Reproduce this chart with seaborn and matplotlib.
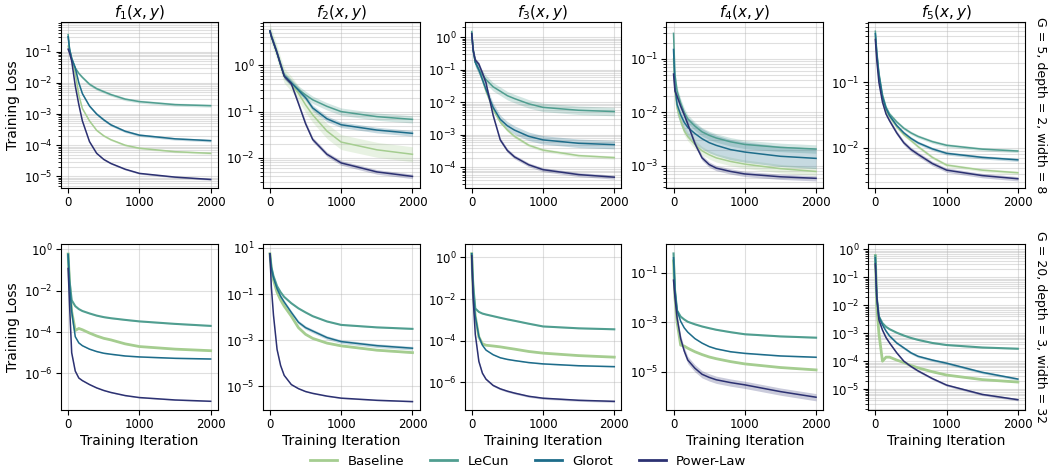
import matplotlib

matplotlib.use("Agg")
import matplotlib.pyplot as plt
import numpy as np
import pandas as pd
import seaborn as sns
from matplotlib.lines import Line2D
from matplotlib.ticker import NullLocator

# 训练迭代点 (从图上读取的采样位置)
ITERS = [0, 20, 50, 100, 150, 200, 300, 400, 500, 600, 800, 1000, 1500, 2000]
METHODS = ["Baseline", "LeCun", "Glorot", "Power-Law"]
FUNC_TITLES = ["$f_1(x, y)$", "$f_2(x, y)$", "$f_3(x, y)$", "$f_4(x, y)$", "$f_5(x, y)$"]
ROW_LABELS = ["G = 5, depth = 2, width = 8", "G = 20, depth = 3, width = 32"]

# 第一行: G = 5, depth = 2, width = 8
top_f1_baseline = [0.15, 0.1, 0.06, 0.02, 4e-3, 1.5e-3, 6e-4, 3e-4, 2e-4, 1.5e-4, 1e-4, 8e-5, 6.2e-5, 5.5e-5]
top_f1_lecun = [0.35, 0.12, 0.06, 0.03, 0.02, 0.015, 9e-3, 6.5e-3, 5.2e-3, 4.2e-3, 3e-3, 2.5e-3, 2e-3, 1.85e-3]
top_f1_glorot = [0.3, 0.12, 0.06, 0.03, 0.01, 4.5e-3, 1.8e-3, 1e-3, 6.5e-4, 4.5e-4, 2.8e-4, 2.1e-4, 1.6e-4, 1.4e-4]
top_f1_power = [0.12, 0.09, 0.05, 8e-3, 2e-3, 6e-4, 1.3e-4, 5.5e-5, 3.5e-5, 2.6e-5, 1.7e-5, 1.25e-5, 9.5e-6, 8e-6]
top_f1_spread = [1.08, 1.12, 1.1, 1.06]

top_f2_baseline = [5.5, 4.2, 3.1, 1.85, 1.03, 0.6, 0.4, 0.25, 0.14, 0.085, 0.038, 0.022, 0.015, 0.012]
top_f2_lecun = [5.5, 4.2, 3.1, 1.85, 1.03, 0.6, 0.42, 0.3, 0.23, 0.18, 0.13, 0.1, 0.078, 0.068]
top_f2_glorot = [5.5, 4.2, 3.1, 1.85, 1.03, 0.6, 0.42, 0.29, 0.2, 0.12, 0.07, 0.052, 0.04, 0.034]
top_f2_power = [5.5, 4.2, 3.1, 1.85, 1.03, 0.58, 0.4, 0.15, 0.055, 0.025, 0.012, 7.8e-3, 5e-3, 4e-3]
top_f2_spread = [1.45, 1.2, 1.15, 1.12]

top_f3_baseline = [1.3, 0.4, 0.17, 0.1, 0.05, 0.022, 6e-3, 2.5e-3, 1.4e-3, 9e-4, 4.8e-4, 3.4e-4, 2.3e-4, 2e-4]
top_f3_lecun = [1.5, 0.4, 0.17, 0.1, 0.07, 0.05, 0.03, 0.022, 0.016, 0.013, 9e-3, 7e-3, 5.7e-3, 5.2e-3]
top_f3_glorot = [1.3, 0.4, 0.17, 0.1, 0.05, 0.025, 7e-3, 3e-3, 1.9e-3, 1.4e-3, 9e-4, 7e-4, 5.5e-4, 5e-4]
top_f3_power = [1.3, 0.4, 0.2, 0.15, 0.08, 0.04, 4e-3, 7e-4, 3.3e-4, 2.1e-4, 1.2e-4, 8.5e-5, 6e-5, 5e-5]
top_f3_spread = [1.12, 1.35, 1.35, 1.15]

top_f4_baseline = [0.1, 0.025, 0.012, 7e-3, 4.5e-3, 3.5e-3, 2.5e-3, 1.9e-3, 1.6e-3, 1.4e-3, 1.2e-3, 1.07e-3, 8.8e-4, 7.8e-4]
top_f4_lecun = [0.3, 0.05, 0.025, 0.015, 0.01, 7.5e-3, 5.5e-3, 4.3e-3, 3.7e-3, 3.3e-3, 2.8e-3, 2.5e-3, 2.2e-3, 2.05e-3]
top_f4_glorot = [0.15, 0.03, 0.014, 9e-3, 6.5e-3, 5.2e-3, 4e-3, 3.2e-3, 2.7e-3, 2.4e-3, 2e-3, 1.8e-3, 1.5e-3, 1.37e-3]
top_f4_power = [0.052, 0.025, 0.02, 0.013, 9e-3, 6e-3, 2.6e-3, 1.4e-3, 1.05e-3, 9e-4, 7.8e-4, 7e-4, 6.2e-4, 5.8e-4]
top_f4_spread = [1.2, 1.2, 1.55, 1.12]

top_f5_baseline = [0.5, 0.25, 0.12, 0.055, 0.036, 0.03, 0.021, 0.016, 0.013, 0.0105, 7.2e-3, 5.5e-3, 4.6e-3, 4.2e-3]
top_f5_lecun = [0.6, 0.3, 0.14, 0.065, 0.042, 0.033, 0.025, 0.02, 0.017, 0.015, 0.0125, 0.011, 9.6e-3, 9e-3]
top_f5_glorot = [0.55, 0.28, 0.13, 0.06, 0.04, 0.031, 0.022, 0.017, 0.014, 0.012, 9.7e-3, 8.3e-3, 7.2e-3, 6.6e-3]
top_f5_power = [0.45, 0.22, 0.1, 0.05, 0.033, 0.026, 0.017, 0.012, 9.5e-3, 8e-3, 5.8e-3, 4.6e-3, 3.8e-3, 3.4e-3]
top_f5_spread = [1.06, 1.06, 1.06, 1.08]

# 第二行: G = 20, depth = 3, width = 32
bot_f1_baseline = [0.6, 0.02, 1e-3, 1.2e-4, 1.5e-4, 1.3e-4, 9e-5, 6.5e-5, 5e-5, 4.2e-5, 2.7e-5, 2e-5, 1.5e-5, 1.26e-5]
bot_f1_lecun = [0.6, 0.03, 3.5e-3, 1.8e-3, 1.3e-3, 1.05e-3, 8e-4, 6.3e-4, 5.3e-4, 4.7e-4, 3.9e-4, 3.3e-4, 2.5e-4, 2e-4]
bot_f1_glorot = [0.55, 0.02, 1e-3, 6e-5, 3e-5, 2.2e-5, 1.5e-5, 1.15e-5, 9.5e-6, 8.5e-6, 7e-6, 6.3e-6, 5.4e-6, 5e-6]
bot_f1_power = [0.12, 2e-3, 1e-5, 1.3e-6, 6e-7, 4.5e-7, 2.9e-7, 2e-7, 1.5e-7, 1.2e-7, 8.5e-8, 6.8e-8, 5.2e-8, 4.5e-8]
bot_f1_spread = [1.05, 1.05, 1.05, 1.05]

bot_f2_baseline = [5.5, 1.2, 0.4, 0.12, 0.055, 0.03, 0.011, 3.5e-3, 1.8e-3, 1.2e-3, 7.5e-4, 5.7e-4, 3.7e-4, 2.9e-4]
bot_f2_lecun = [5.5, 1.5, 0.6, 0.22, 0.12, 0.075, 0.04, 0.024, 0.016, 0.011, 6.5e-3, 4.6e-3, 3.6e-3, 3.1e-3]
bot_f2_glorot = [5.5, 1.3, 0.5, 0.17, 0.08, 0.045, 0.016, 6e-3, 3.5e-3, 2.5e-3, 1.3e-3, 8.7e-4, 5.8e-4, 4.5e-4]
bot_f2_power = [5.5, 0.2, 0.012, 4e-4, 8e-5, 3e-5, 1.2e-5, 8e-6, 6e-6, 5e-6, 3.8e-6, 3.1e-6, 2.5e-6, 2.2e-6]
bot_f2_spread = [1.08, 1.05, 1.2, 1.05]

bot_f3_baseline = [1.5, 0.02, 1.5e-3, 1.5e-4, 7e-5, 6e-5, 5.5e-5, 5e-5, 4.4e-5, 3.9e-5, 3e-5, 2.5e-5, 1.9e-5, 1.6e-5]
bot_f3_lecun = [1.5, 0.05, 3.5e-3, 2.4e-3, 2e-3, 1.8e-3, 1.5e-3, 1.25e-3, 1.05e-3, 9e-4, 6.5e-4, 4.8e-4, 3.9e-4, 3.5e-4]
bot_f3_glorot = [1.5, 0.02, 1.5e-3, 1.6e-4, 6e-5, 3.5e-5, 2.1e-5, 1.5e-5, 1.25e-5, 1.1e-5, 8.8e-6, 7.6e-6, 6.2e-6, 5.6e-6]
bot_f3_power = [1.2, 0.01, 2e-4, 1e-5, 2.7e-6, 1.4e-6, 7e-7, 4.8e-7, 3.7e-7, 3e-7, 2.1e-7, 1.7e-7, 1.35e-7, 1.2e-7]
bot_f3_spread = [1.05, 1.05, 1.05, 1.12]

bot_f4_baseline = [0.3, 0.01, 1e-3, 1.2e-4, 1.1e-4, 9e-5, 6.5e-5, 5e-5, 4e-5, 3.4e-5, 2.6e-5, 2.1e-5, 1.5e-5, 1.2e-5]
bot_f4_lecun = [0.6, 0.02, 3e-3, 1.7e-3, 1.3e-3, 1.05e-3, 8.3e-4, 6.8e-4, 5.8e-4, 5e-4, 4e-4, 3.3e-4, 2.7e-4, 2.4e-4]
bot_f4_glorot = [0.4, 0.02, 3e-3, 1.1e-3, 6e-4, 4e-4, 2.2e-4, 1.45e-4, 1.05e-4, 8.5e-5, 6.5e-5, 5.6e-5, 4.4e-5, 3.9e-5]
bot_f4_power = [0.05, 0.01, 1.5e-3, 2.2e-4, 7e-5, 3e-5, 1.4e-5, 8e-6, 6e-6, 4.8e-6, 3.7e-6, 3e-6, 1.6e-6, 9.5e-7]
bot_f4_spread = [1.05, 1.05, 1.05, 1.4]

bot_f5_baseline = [0.6, 0.01, 1e-3, 1e-4, 1.4e-4, 1.4e-4, 1.1e-4, 9e-5, 7e-5, 5.8e-5, 4.2e-5, 3.2e-5, 2.2e-5, 1.8e-5]
bot_f5_lecun = [0.6, 0.02, 4e-3, 2.3e-3, 1.7e-3, 1.4e-3, 1.05e-3, 8.3e-4, 6.8e-4, 5.8e-4, 4.5e-4, 3.8e-4, 3.1e-4, 2.8e-4]
bot_f5_glorot = [0.5, 0.02, 4e-3, 2e-3, 1.2e-3, 8e-4, 4.5e-4, 3e-4, 2e-4, 1.5e-4, 1.1e-4, 8.5e-5, 4e-5, 2.3e-5]
bot_f5_power = [0.3, 0.02, 3e-3, 1.3e-3, 7e-4, 4.5e-4, 2e-4, 1e-4, 6.5e-5, 4.5e-5, 2.4e-5, 1.4e-5, 6.5e-6, 4.2e-6]
bot_f5_spread = [1.05, 1.05, 1.12, 1.1]

# 坐标轴范围
TOP_YLIM = [(4.4e-6, 0.89), (2.3e-3, 8.6), (2.4e-5, 2.95), (3.9e-4, 0.49), (2.5e-3, 0.83)]
BOT_YLIM = [(1.7e-8, 1.74), (9.5e-7, 14), (4.6e-8, 4.2), (2.9e-7, 1.38), (1.8e-6, 1.5)]
BOT_F4_YTICKS = [1e-1, 1e-3, 1e-5]

PANELS = [
    [
        ((top_f1_baseline, top_f1_lecun, top_f1_glorot, top_f1_power), top_f1_spread),
        ((top_f2_baseline, top_f2_lecun, top_f2_glorot, top_f2_power), top_f2_spread),
        ((top_f3_baseline, top_f3_lecun, top_f3_glorot, top_f3_power), top_f3_spread),
        ((top_f4_baseline, top_f4_lecun, top_f4_glorot, top_f4_power), top_f4_spread),
        ((top_f5_baseline, top_f5_lecun, top_f5_glorot, top_f5_power), top_f5_spread),
    ],
    [
        ((bot_f1_baseline, bot_f1_lecun, bot_f1_glorot, bot_f1_power), bot_f1_spread),
        ((bot_f2_baseline, bot_f2_lecun, bot_f2_glorot, bot_f2_power), bot_f2_spread),
        ((bot_f3_baseline, bot_f3_lecun, bot_f3_glorot, bot_f3_power), bot_f3_spread),
        ((bot_f4_baseline, bot_f4_lecun, bot_f4_glorot, bot_f4_power), bot_f4_spread),
        ((bot_f5_baseline, bot_f5_lecun, bot_f5_glorot, bot_f5_power), bot_f5_spread),
    ],
]


def _panel_frame(curves, spread):
    """把每条曲线展开成 (下界, 中值, 上界) 三个样本，交给 seaborn 聚合。"""
    rows = []
    for method, ys, s in zip(METHODS, curves, spread):
        for it, y in zip(ITERS, ys):
            for v in (y / s, y, y * s):
                rows.append((method, it, v))
    return pd.DataFrame(rows, columns=["method", "iteration", "loss"])


crest = sns.color_palette("crest", as_cmap=True)
palette = [crest(v) for v in np.linspace(0, 1, len(METHODS))]

fig, axes = plt.subplots(2, 5, figsize=(10.57, 4.73), dpi=100)
fig.subplots_adjust(left=61 / 1057, right=1025 / 1057, top=1 - 22 / 473,
                    bottom=1 - 410 / 473, wspace=0.287, hspace=0.344)

for r, row in enumerate(PANELS):
    ylims = TOP_YLIM if r == 0 else BOT_YLIM
    for c, (curves, spread) in enumerate(row):
        ax = axes[r, c]
        ax.set_yscale("log")
        df = _panel_frame(curves, spread)
        sns.lineplot(
            data=df,
            x="iteration",
            y="loss",
            hue="method",
            hue_order=METHODS,
            palette=palette,
            estimator="median",
            errorbar=("pi", 100),
            err_kws={"alpha": 0.25, "linewidth": 0},
            linewidth=1.1,
            legend=False,
            ax=ax,
        )
        # 下排的 Baseline / LeCun 曲线噪声较大，看起来更粗
        if r == 1:
            ax.lines[0].set_linewidth(2.0)
            ax.lines[1].set_linewidth(1.5)
        ax.set_ylim(*ylims[c])
        if r == 1 and c == 3:
            ax.set_yticks(BOT_F4_YTICKS)
            ax.yaxis.set_minor_locator(NullLocator())
        ax.set_xlim(-100, 2100)
        ax.set_xticks([0, 1000, 2000])
        ax.grid(True, which="both", color="#b0b0b0", alpha=0.4, linewidth=0.8)
        ax.set_axisbelow(True)
        ax.tick_params(labelsize=8.5, pad=2.5)
        if c == 0:
            ax.set_ylabel("Training Loss", fontsize=10, labelpad=3)
        else:
            ax.set_ylabel(None)
        if r == 1:
            ax.set_xlabel("Training Iteration", fontsize=10, labelpad=2)
        else:
            ax.set_xlabel(None)
            ax.set_title(FUNC_TITLES[c], fontsize=11, pad=3)

# 行标签
for r, label in enumerate(ROW_LABELS):
    pos = axes[r, 4].get_position()
    fig.text(1040 / 1057, (pos.y0 + pos.y1) / 2, label, rotation=270,
             ha="center", va="center", fontsize=9)

handles = [Line2D([0], [0], color=col, lw=2) for col in palette]
fig.legend(handles, METHODS, loc="center", bbox_to_anchor=(0.5, 1 - 461 / 473),
           ncol=4, frameon=False, fontsize=9.5)

fig.savefig("out.png", dpi=100)
plt.close(fig)
